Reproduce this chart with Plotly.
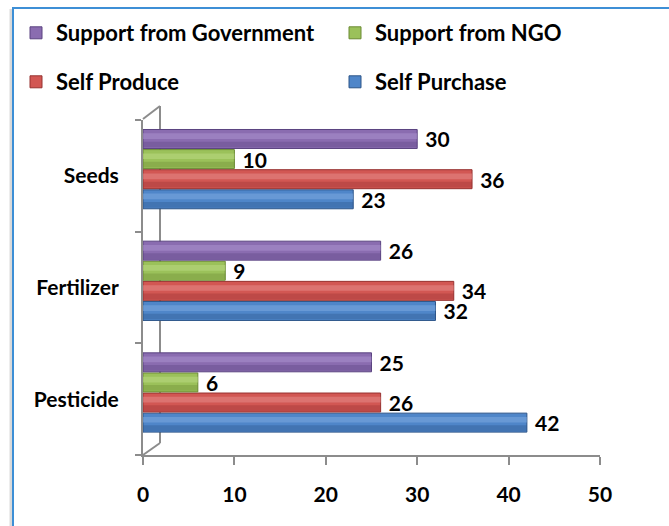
import plotly.graph_objects as go

categories = ["Pesticide", "Fertilizer", "Seeds"]
series_names = ["Self Purchase", "Self Produce", "Support from NGO", "Support from Government"]
self_purchase = [42, 32, 23]
self_produce = [26, 34, 36]
support_ngo = [6, 9, 10]
support_gov = [25, 26, 30]
x_ticks = [0, 10, 20, 30, 40, 50]

values = [self_purchase, self_produce, support_ngo, support_gov]
main_colors = ["#4f86c9", "#d25753", "#9bc15a", "#8a6cb0"]
dark_colors = ["#2c5488", "#973230", "#6b8a33", "#5a4380"]
light_colors = ["#7aa7de", "#e38683", "#b7d77e", "#a78dcb"]

FONT = "Lato"
W, H = 669, 526
L, R, T, B = 143, 69, 120, 71
pw, ph = W - L - R, H - T - B

pitch, bw, shift = 0.18, 0.17, 0.06
legend_slots = ["legend4", "legend3", "legend2", "legend"]

fig = go.Figure()
for k, (name, vals, mc, dc, lc, lg) in enumerate(
        zip(series_names, values, main_colors, dark_colors, light_colors, legend_slots)):
    off = shift - 2 * pitch + k * pitch + (pitch - bw) / 2
    fig.add_trace(go.Bar(
        y=categories, x=vals, name=name, orientation="h",
        offset=off, width=bw,
        marker=dict(color=mc, line=dict(color=dc, width=1)),
        text=[" " + str(v) for v in vals], textposition="outside", constraintext="none",
        textfont=dict(family=FONT, size=21, color="black", weight=700),
        cliponaxis=False, legend=lg, hoverinfo="skip",
    ))
    fig.add_trace(go.Bar(
        y=categories, x=vals, orientation="h", showlegend=False, hoverinfo="skip",
        offset=off + 0.01, width=bw * 0.3,
        marker=dict(color=dc, opacity=0.35, line=dict(width=0)),
    ))
    fig.add_trace(go.Bar(
        y=categories, x=vals, orientation="h", showlegend=False, hoverinfo="skip",
        offset=off + bw * 0.5, width=bw * 0.3,
        marker=dict(color=lc, opacity=0.6, line=dict(width=0)),
    ))

def px(xp):
    return (xp - L) / pw

def py(yp):
    return (H - B - yp) / ph

gray = "#8c8c8c"
shapes = [
    dict(type="line", xref="paper", yref="paper", x0=px(11), x1=px(11), y0=py(9), y1=py(540),
         line=dict(color="rgba(150,150,150,0.35)", width=3), layer="below"),
    dict(type="rect", xref="paper", yref="paper", x0=px(13), x1=px(700), y0=py(8), y1=py(560),
         line=dict(color="#3d8fd6", width=2), fillcolor="rgba(0,0,0,0)", layer="below"),
    dict(type="line", xref="paper", yref="paper", x0=px(143), x1=px(160), y0=py(455), y1=py(443),
         line=dict(color=gray, width=2), layer="below"),
    dict(type="line", xref="paper", yref="paper", x0=px(143), x1=px(160), y0=py(119), y1=py(106),
         line=dict(color=gray, width=2), layer="below"),
    dict(type="line", xref="paper", yref="paper", x0=px(160), x1=px(160), y0=py(106), y1=py(443),
         line=dict(color=gray, width=2), layer="below"),
]

def legend_at(xpix, ypix):
    return dict(
        orientation="h", xref="container", yref="container",
        x=xpix / W, y=1 - ypix / H, xanchor="left", yanchor="middle",
        font=dict(family=FONT, size=22, color="black", weight=700),
        itemwidth=30, bgcolor="rgba(0,0,0,0)",
    )

fig.update_layout(
    width=W, height=H,
    margin=dict(l=L, r=R, t=T, b=B),
    paper_bgcolor="white", plot_bgcolor="white",
    barmode="overlay",
    showlegend=True,
    legend=legend_at(16, 33),
    legend2=legend_at(335, 33),
    legend3=legend_at(16, 82),
    legend4=legend_at(335, 82),
    xaxis=dict(range=[0, 50], tickvals=x_ticks, ticktext=[str(t) for t in x_ticks],
               showgrid=False, zeroline=False, showline=True, linecolor=gray, linewidth=2,
               ticks="outside", ticklen=8, tickcolor=gray, tickwidth=2, ticklabelstandoff=12,
               tickfont=dict(family=FONT, size=21, color="black", weight=700)),
    yaxis=dict(categoryorder="array", categoryarray=categories, range=[-0.5, 2.5],
               showgrid=False, zeroline=False, showline=True, linecolor=gray, linewidth=2,
               ticks="outside", tickson="boundaries", ticklen=6, tickcolor=gray, tickwidth=2,
               tickfont=dict(family=FONT, size=21, color="black", weight=700), ticklabelstandoff=18),
    shapes=shapes,
)

fig.write_html("out.html")
